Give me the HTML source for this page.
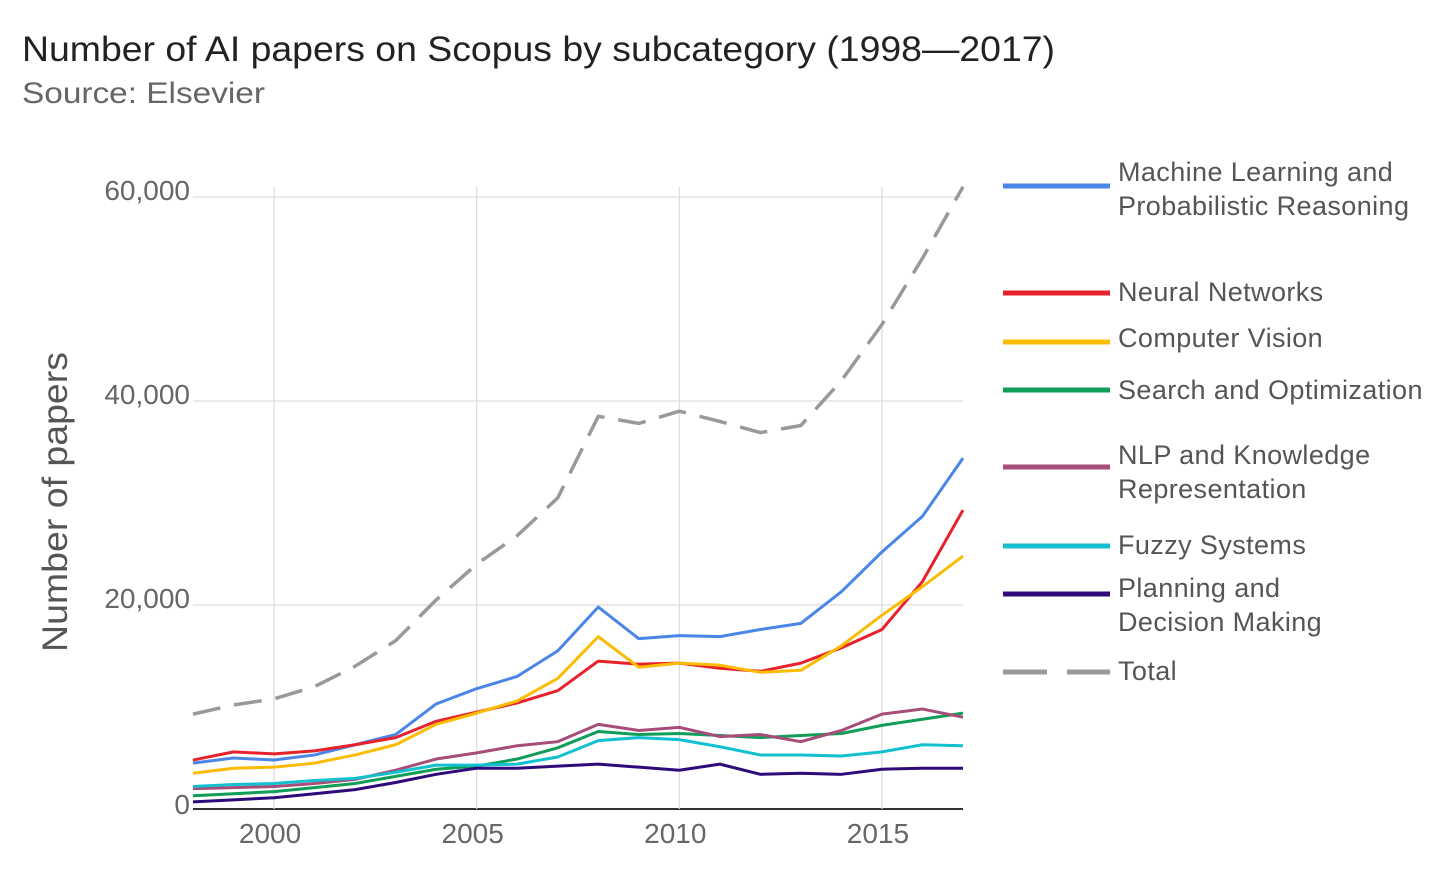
<!DOCTYPE html>
<html><head><meta charset="utf-8"><style>
body{margin:0;background:#fff;font-family:"Liberation Sans",sans-serif;}
svg text{font-family:"Liberation Sans",sans-serif;}
</style></head><body>
<svg id="chart" width="1456" height="888" xmlns="http://www.w3.org/2000/svg">
<text x="22" y="61" font-size="35" fill="#222" textLength="1033" lengthAdjust="spacingAndGlyphs">Number of AI papers on Scopus by subcategory (1998—2017)</text>
<text x="22" y="103" font-size="30" fill="#666" textLength="243" lengthAdjust="spacingAndGlyphs">Source: Elsevier</text>
<text transform="translate(67,502) rotate(-90)" text-anchor="middle" font-size="35" fill="#555" textLength="300" lengthAdjust="spacingAndGlyphs">Number of papers</text>
<g id="grid"></g><g id="series"></g><g id="legend"></g>
</svg>
<script>
const years=[1998,1999,2000,2001,2002,2003,2004,2005,2006,2007,2008,2009,2010,2011,2012,2013,2014,2015,2016,2017];
const xTicks=[2000,2005,2010,2015];
const yTicks=[0,20000,40000,60000];
const yTickLabels=["0","20,000","40,000","60,000"];
const total=[9300,10200,10800,12000,14000,16500,20500,24000,26800,30500,38500,37800,39000,38000,36900,37600,42000,47500,54000,61000];
const ml=[4500,5000,4800,5300,6300,7300,10300,11800,13000,15500,19800,16700,17000,16900,17600,18200,21300,25200,28700,34400];
const nn=[4800,5600,5400,5700,6300,7000,8600,9500,10400,11600,14500,14200,14300,13800,13500,14300,15800,17600,22300,29300];
const cv=[3500,4000,4100,4500,5300,6300,8300,9400,10600,12800,16900,13900,14300,14100,13400,13600,16000,19000,21800,24800];
const search=[1300,1500,1700,2100,2500,3200,3900,4200,4900,6000,7600,7300,7400,7200,7000,7200,7400,8200,8800,9400];
const nlp=[2000,2100,2200,2500,2900,3800,4900,5500,6200,6600,8300,7700,8000,7100,7300,6600,7700,9300,9800,9000];
const fuzzy=[2200,2400,2500,2800,3000,3600,4300,4300,4400,5100,6700,7000,6800,6100,5300,5300,5200,5600,6300,6200];
const planning=[700,900,1100,1500,1900,2600,3400,4000,4000,4200,4400,4100,3800,4400,3400,3500,3400,3900,4000,4000];
const seriesList=[
 {name:"Machine Learning and|Probabilistic Reasoning",data:ml,color:"#4a86e8",ly:186,ty:181,slug:"machine-learning"},
 {name:"Neural Networks",data:nn,color:"#e8222c",ly:293,ty:301,slug:"neural-networks"},
 {name:"Computer Vision",data:cv,color:"#fbbc04",ly:342,ty:347,slug:"computer-vision"},
 {name:"Search and Optimization",data:search,color:"#0f9d58",ly:390,ty:399,slug:"search-optimization"},
 {name:"NLP and Knowledge|Representation",data:nlp,color:"#a64d79",ly:467,ty:464,slug:"nlp-knowledge"},
 {name:"Fuzzy Systems",data:fuzzy,color:"#12c0cf",ly:546,ty:554,slug:"fuzzy-systems"},
 {name:"Planning and|Decision Making",data:planning,color:"#2e0a7a",ly:594,ty:597,slug:"planning-decision"},
 {name:"Total",data:total,color:"#999",ly:672,ty:680,dash:true,slug:"total"}];
const NS="http://www.w3.org/2000/svg";
const x=v=>193+(v-1998)*(963-193)/19;
const y=v=>809-v*(809-197)/60000;
function mk(t,a,p){const e=document.createElementNS(NS,t);for(const k in a)e.setAttribute(k,a[k]);p.appendChild(e);return e;}
const grid=document.getElementById('grid');
yTicks.forEach((t,i)=>{
 const l=mk('line',{x1:193,x2:963,y1:y(t),y2:y(t),stroke:t===0?'#333':'#ddd','stroke-width':t===0?2:1.3},grid);
 
 
 const tx=mk('text',{x:190,y:y(t)+(t===0?5:3),'text-anchor':'end','font-size':28,fill:'#666'},grid);
 tx.textContent=yTickLabels[i];
 
 
});
xTicks.forEach(t=>{
 const l=mk('line',{x1:x(t),x2:x(t),y1:187,y2:809,stroke:'#ddd','stroke-width':1.3},grid);
 
 
 const tx=mk('text',{x:x(t)-4,y:843,'text-anchor':'middle','font-size':28,fill:'#666'},grid);
 tx.textContent=t;
 
 
});
const sg=document.getElementById('series'),lg=document.getElementById('legend');
seriesList.forEach(s=>{
 const p=mk('polyline',{points:s.data.map((v,i)=>x(years[i])+','+y(v)).join(' '),fill:'none',stroke:s.color,'stroke-width':s.dash?3.5:3,'stroke-dasharray':s.dash?'28 14':'none','stroke-linejoin':'round'},sg);
 
 
 const g=mk('g',{},lg);
 
 
 mk('line',{x1:1003,x2:1110,y1:s.ly,y2:s.ly,stroke:s.color,'stroke-width':5,'stroke-dasharray':s.dash?'44 20':'none'},g);
 s.name.split('|').forEach((ln,i)=>{const t=mk('text',{x:1118,y:s.ty+i*34,'font-size':27,fill:'#555','letter-spacing':'0.4'},g);t.textContent=ln;});
});
</script>
</body></html>
